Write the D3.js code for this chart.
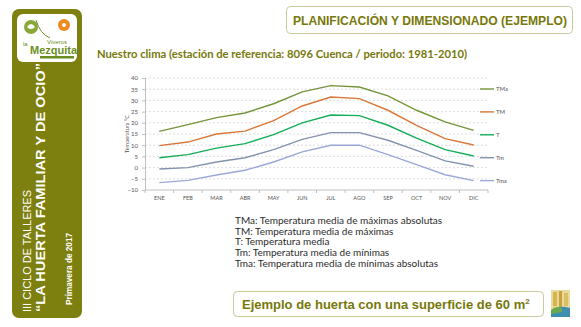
<!DOCTYPE html>
<html>
<head>
<meta charset="utf-8">
<script src="https://cdn.jsdelivr.net/npm/d3@7"></script>
<style>
  body { margin: 0; background: #fff; }
  svg { display: block; }
</style>
</head>
<body>
<div id="chart"></div>
<script>
// chart data
const months = ["ENE", "FEB", "MAR", "ABR", "MAY", "JUN", "JUL", "AGO", "SEP", "OCT", "NOV", "DIC"];
const seriesNames = ["TMa", "TM", "T", "Tm", "Tma"];
const tmaMax = [16.2, 19.2, 22.3, 24.4, 28.5, 33.8, 36.6, 36.0, 32.0, 25.6, 20.4, 16.6];
const tmMax = [9.8, 11.4, 15.0, 16.3, 21.0, 27.5, 31.5, 30.8, 25.6, 18.9, 12.9, 10.1];
const tMean = [4.4, 5.8, 8.7, 10.7, 14.7, 20.0, 23.5, 23.2, 18.9, 13.2, 8.0, 5.2];
const tmMin = [-0.6, 0.0, 2.5, 4.4, 8.0, 12.6, 15.6, 15.6, 12.2, 7.7, 3.0, 0.6];
const tmaMin = [-6.7, -5.7, -3.3, -1.2, 2.5, 7.0, 10.0, 10.0, 5.8, 1.3, -3.2, -5.8];
const yTicks = [-10, -5, 0, 5, 10, 15, 20, 25, 30, 35, 40];
const notes = [
    "TMa: Temperatura media de máximas absolutas",
    "TM: Temperatura media de máximas",
    "T: Temperatura media",
    "Tm: Temperatura media de mínimas",
    "Tma: Temperatura media de mínimas absolutas"
];

const colors = ["#76953a", "#d9773a", "#14ad58", "#8493ad", "#9aa8d8"];
const series = [tmaMax, tmMax, tMean, tmMin, tmaMin].map((vals, i) => ({
    name: seriesNames[i],
    values: vals,
    color: colors[i]
}));

const olive = "#7d7f0e";
const textOlive = "#77780a";

const svg = d3.select("#chart").append("svg")
    .attr("width", 581)
    .attr("height", 327);

// ---- left sidebar ----
svg.append("rect")
    .attr("x", 12).attr("y", 9)
    .attr("width", 70).attr("height", 309)
    .attr("rx", 7)
    .attr("fill", olive);

const logo = svg.append("g");
logo.append("rect")
    .attr("x", 17).attr("y", 14)
    .attr("width", 60).attr("height", 48)
    .attr("rx", 6)
    .attr("fill", "#fff");
// leaf
logo.append("circle").attr("cx", 31).attr("cy", 27).attr("r", 7).attr("fill", "#8aa83a");
logo.append("path").attr("d", "M27,27 Q31,21 35,27 Q31,31 27,27").attr("fill", "#fff");
logo.append("path").attr("d", "M36,20 Q40,34 50,38").attr("fill", "none").attr("stroke", "#6d8f2a").attr("stroke-width", 1);
// flower
logo.append("circle").attr("cx", 64).attr("cy", 25).attr("r", 6).attr("fill", "#ef8a1e");
logo.append("circle").attr("cx", 64).attr("cy", 25).attr("r", 2).attr("fill", "#fff");
logo.append("text").attr("x", 47).attr("y", 44)
    .attr("font-family", "Liberation Sans, Arial, sans-serif")
    .attr("font-size", 6).attr("fill", "#6b8e23").text("Viveros");
logo.append("text").attr("x", 23).attr("y", 46)
    .attr("font-family", "Liberation Sans, Arial, sans-serif")
    .attr("font-size", 6).attr("fill", "#6b8e23").text("la");
logo.append("text").attr("x", 30).attr("y", 54)
    .attr("font-family", "Liberation Sans, Arial, sans-serif")
    .attr("font-size", 11).attr("font-weight", "bold").attr("fill", "#6b8e23").text("Mezquita");
logo.append("rect").attr("x", 40).attr("y", 56).attr("width", 34).attr("height", 2.5).attr("fill", "#6b8e23");

const side = svg.append("g").attr("font-family", "Liberation Sans, Arial, sans-serif").attr("fill", "#fff");
side.append("text")
    .attr("transform", "translate(31,312) rotate(-90)")
    .attr("font-size", 11.5)
    .attr("textLength", 122).attr("lengthAdjust", "spacingAndGlyphs")
    .text("III CICLO DE TALLERES");
side.append("text")
    .attr("transform", "translate(45,312) rotate(-90)")
    .attr("font-size", 13.5).attr("font-weight", "bold")
    .attr("textLength", 249).attr("lengthAdjust", "spacingAndGlyphs")
    .text("“LA HUERTA FAMILIAR Y DE OCIO”");
side.append("text")
    .attr("transform", "translate(72,305) rotate(-90)")
    .attr("font-size", 9.5).attr("font-weight", "bold")
    .attr("textLength", 72).attr("lengthAdjust", "spacingAndGlyphs")
    .text("Primavera de 2017");

// ---- title box ----
svg.append("rect")
    .attr("x", 286.5).attr("y", 6.5)
    .attr("width", 286).attr("height", 27)
    .attr("rx", 4)
    .attr("fill", "#fff").attr("stroke", "#c9c99c");
svg.append("text")
    .attr("x", 293).attr("y", 24.5)
    .attr("font-family", "Liberation Sans, Arial, sans-serif")
    .attr("font-size", 12.5).attr("font-weight", "bold")
    .attr("fill", textOlive)
    .attr("textLength", 274).attr("lengthAdjust", "spacingAndGlyphs")
    .text("PLANIFICACIÓN Y DIMENSIONADO (EJEMPLO)");

// subtitle
svg.append("text")
    .attr("x", 97).attr("y", 58)
    .attr("font-family", "Lato, 'Open Sans', sans-serif")
    .attr("font-size", 11).attr("font-weight", "bold")
    .attr("fill", textOlive)
    .attr("textLength", 370).attr("lengthAdjust", "spacingAndGlyphs")
    .text("Nuestro clima (estación de referencia: 8096 Cuenca / periodo: 1981-2010)");

// ---- line chart ----
const plot = { left: 145, right: 488, top: 78, bottom: 190 };

const x = d3.scaleBand()
    .domain(months)
    .range([plot.left, plot.right]);

const y = d3.scaleLinear()
    .domain([-10, 40])
    .range([plot.bottom, plot.top]);

const chart = svg.append("g").attr("font-family", "Lato, 'Open Sans', sans-serif");

// gridlines
chart.append("g")
    .selectAll("line")
    .data(yTicks.filter(d => d !== -10))
    .join("line")
    .attr("x1", plot.left).attr("x2", plot.right)
    .attr("y1", d => y(d)).attr("y2", d => y(d))
    .attr("stroke", "#d4d4d4")
    .attr("stroke-width", 0.8)
    .attr("stroke-dasharray", "2,2");

// y axis
const yAxis = chart.append("g")
    .attr("transform", `translate(${plot.left},0)`)
    .call(d3.axisLeft(y).tickValues(yTicks).tickSize(3).tickPadding(4));
yAxis.select(".domain").attr("stroke", "#bfbfbf");
yAxis.selectAll(".tick line").attr("stroke", "#bfbfbf");
yAxis.selectAll("text").attr("font-size", 6).attr("fill", "#555").attr("font-family", "Lato, sans-serif");

// x axis, ticks between categories
const xAxis = chart.append("g")
    .attr("transform", `translate(0,${plot.bottom})`);
xAxis.append("line")
    .attr("x1", plot.left).attr("x2", plot.right)
    .attr("stroke", "#bfbfbf");
xAxis.selectAll(".sep")
    .data(months.concat(["end"]))
    .join("line")
    .attr("class", "sep")
    .attr("x1", (d, i) => plot.left + i * x.bandwidth())
    .attr("x2", (d, i) => plot.left + i * x.bandwidth())
    .attr("y1", 0).attr("y2", 3)
    .attr("stroke", "#bfbfbf");
xAxis.selectAll(".lbl")
    .data(months)
    .join("text")
    .attr("class", "lbl")
    .attr("x", d => x(d) + x.bandwidth() / 2)
    .attr("y", 10)
    .attr("text-anchor", "middle")
    .attr("font-size", 5.5)
    .attr("fill", "#555")
    .text(d => d);

// y axis label
chart.append("text")
    .attr("transform", `translate(129,${y(15)}) rotate(-90)`)
    .attr("text-anchor", "middle")
    .attr("font-size", 5.5)
    .attr("fill", "#555")
    .text("Temperatura °C");

// lines
const line = d3.line()
    .x((d, i) => x(months[i]) + x.bandwidth() / 2)
    .y(d => y(d));

chart.append("g")
    .selectAll("path")
    .data(series)
    .join("path")
    .attr("d", d => line(d.values))
    .attr("fill", "none")
    .attr("stroke", d => d.color)
    .attr("stroke-width", 1.4);

// legend
const legend = chart.append("g")
    .selectAll("g")
    .data(series)
    .join("g")
    .attr("transform", (d, i) => `translate(480,${89 + i * 22.9})`);
legend.append("line")
    .attr("x1", 0).attr("x2", 14)
    .attr("stroke", d => d.color)
    .attr("stroke-width", 1.4);
legend.append("text")
    .attr("x", 16).attr("y", 2)
    .attr("font-size", 6)
    .attr("fill", "#555")
    .text(d => d.name);

// ---- notes ----
svg.append("g")
    .selectAll("text")
    .data(notes)
    .join("text")
    .attr("x", 235)
    .attr("y", (d, i) => 224 + i * 10.7)
    .attr("font-family", "Lato, 'Open Sans', sans-serif")
    .attr("font-size", 10)
    .attr("fill", "#2b2b2b")
    .text(d => d);

// ---- bottom box ----
svg.append("rect")
    .attr("x", 233.5).attr("y", 291.5)
    .attr("width", 310).attr("height", 25)
    .attr("rx", 4)
    .attr("fill", "#fff").attr("stroke", "#c9c99c");
const bottomText = svg.append("text")
    .attr("x", 242).attr("y", 308.5)
    .attr("font-family", "Liberation Sans, Arial, sans-serif")
    .attr("font-size", 13).attr("font-weight", "bold")
    .attr("fill", textOlive);
bottomText.append("tspan").text("Ejemplo de huerta con una superficie de 60 m");
bottomText.append("tspan").attr("dy", -5).attr("font-size", 8).text("2");

// small logo bottom right
const sl = svg.append("g");
sl.append("rect").attr("x", 551).attr("y", 290).attr("width", 19).attr("height", 27).attr("fill", "#e9d9a0");
sl.append("rect").attr("x", 553).attr("y", 292).attr("width", 4).attr("height", 14).attr("fill", "#d4b64a");
sl.append("rect").attr("x", 559).attr("y", 291).attr("width", 3).attr("height", 16).attr("fill", "#c9a33a");
sl.append("rect").attr("x", 564).attr("y", 293).attr("width", 4).attr("height", 13).attr("fill", "#d8c060");
sl.append("path").attr("d", "M551,312 Q558,304 570,308 L570,317 L551,317 Z").attr("fill", "#3e8fae");
sl.append("path").attr("d", "M551,310 Q556,305 562,308 L562,312 L551,314 Z").attr("fill", "#6aa84f");
</script>
</body>
</html>
